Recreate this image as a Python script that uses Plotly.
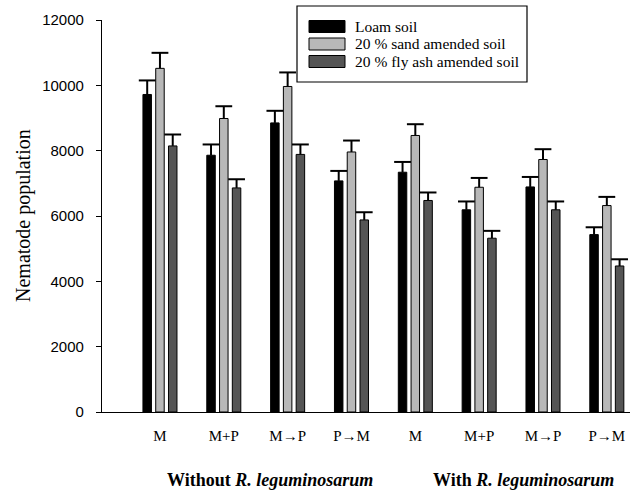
import plotly.graph_objects as go

# Treatment labels along the x axis (two blocks of four)
treatments = ["M", "M+P", "M\u2192P", "P\u2192M", "M", "M+P", "M\u2192P", "P\u2192M"]

series_names = ["Loam soil", "20 % sand amended soil", "20 % fly ash amended soil"]

# Mean nematode population per treatment
loam = [9720, 7860, 8850, 7075, 7340, 6190, 6890, 5430]
sand = [10520, 8985, 9965, 7960, 8465, 6880, 7730, 6320]
flyash = [8145, 6860, 7885, 5880, 6475, 5320, 6190, 4470]

# Upper error (standard error) per bar
loam_err = [430, 330, 370, 305, 315, 255, 305, 225]
sand_err = [475, 375, 430, 350, 345, 285, 315, 265]
flyash_err = [350, 265, 305, 235, 245, 225, 255, 205]

y_ticks = [0, 2000, 4000, 6000, 8000, 10000, 12000]

fills = ["#000000", "#b8b8b8", "#555555"]
means = [loam, sand, flyash]
errors = [loam_err, sand_err, flyash_err]

W, H = 630, 493
ML, MR, MT, MB = 102, 0, 20, 81
PW, PH = W - ML - MR, H - MT - MB

SLOT = 0.2      # spacing between bars of one group (axis units)
BAR_W = 0.133   # bar width (axis units)
CAP_PX = 12     # error-bar cap length (px)

SERIF = "Liberation Serif, Times New Roman, serif"
SANS = "Liberation Sans, Arial, sans-serif"

positions = list(range(len(treatments)))

fig = go.Figure()
for k, (name, vals, errs, col) in enumerate(zip(series_names, means, errors, fills)):
    shift = (k - 1) * SLOT
    fig.add_trace(go.Bar(
        x=positions, y=vals, name=name,
        width=BAR_W, offset=shift - BAR_W / 2,
        marker=dict(color=col, line=dict(color="#000000", width=1)),
        error_y=dict(type="data", array=errs, arrayminus=[0] * len(errs),
                     symmetric=False, width=0, thickness=2, color="#000000"),
        showlegend=False,
    ))
    # caps on top of the error bars
    fig.add_trace(go.Scatter(
        x=[p + shift for p in positions],
        y=[v + e for v, e in zip(vals, errs)],
        mode="markers",
        marker=dict(symbol="line-ew", size=CAP_PX,
                    line=dict(color="#000000", width=2)),
        showlegend=False, hoverinfo="skip",
    ))


def px_x(px):
    return (px - ML) / PW


def px_y(py):
    return (H - MB - py) / PH


# legend box drawn in the upper middle of the chart
LEG_L, LEG_R, LEG_T, LEG_B = 297, 527, 6, 82
SW_L, SW_R, SW_H = 309, 345, 12
ROW_Y = [26.5, 44, 61.5]
TXT_X = 353

shapes = [dict(type="rect", xref="paper", yref="paper",
               x0=px_x(LEG_L), x1=px_x(LEG_R), y0=px_y(LEG_B), y1=px_y(LEG_T),
               line=dict(color="#000000", width=1.2), fillcolor="#ffffff", layer="above")]
annotations = []
for name, col, ry in zip(series_names, fills, ROW_Y):
    shapes.append(dict(type="rect", xref="paper", yref="paper",
                       x0=px_x(SW_L), x1=px_x(SW_R),
                       y0=px_y(ry + SW_H / 2), y1=px_y(ry - SW_H / 2),
                       line=dict(color="#000000", width=1), fillcolor=col, layer="above"))
    annotations.append(dict(text=name, xref="paper", yref="paper",
                            x=px_x(TXT_X), y=px_y(ry), xanchor="left", yanchor="middle",
                            showarrow=False, font=dict(family=SERIF, size=15.5, color="#000000")))

# y-axis title
annotations.append(dict(text="Nematode population", xref="paper", yref="paper",
                        x=px_x(23), y=0.5, textangle=-90, xanchor="center", yanchor="middle",
                        showarrow=False, font=dict(family=SERIF, size=20, color="#000000")))

# block labels under the treatment labels
for label, cx in [("<b>Without <i>R. leguminosarum</i></b>", 270),
                  ("<b>With <i>R. leguminosarum</i></b>", 523)]:
    annotations.append(dict(text=label, xref="paper", yref="paper",
                            x=px_x(cx), y=px_y(480), xanchor="center", yanchor="middle",
                            showarrow=False, font=dict(family=SERIF, size=18, color="#000000")))

fig.update_layout(
    width=W, height=H,
    margin=dict(l=ML, r=MR, t=MT, b=MB, pad=0),
    plot_bgcolor="#ffffff", paper_bgcolor="#ffffff",
    barmode="group",
    shapes=shapes, annotations=annotations,
    xaxis=dict(range=[-0.908, 7.363], tickvals=positions, ticktext=treatments,
               ticks="", showline=True, linecolor="#000000", linewidth=1.2,
               showgrid=False, zeroline=False, ticklabelstandoff=10,
               tickfont=dict(family=SERIF, size=15, color="#000000"), fixedrange=True),
    yaxis=dict(range=[0, 12000], tickvals=y_ticks, ticktext=[str(v) for v in y_ticks],
               ticks="outside", ticklen=5,
               tickwidth=1, tickcolor="#000000", showline=True, linecolor="#000000",
               linewidth=1.2, showgrid=False, zeroline=False, ticklabelstandoff=9,
               tickfont=dict(family=SANS, size=15, color="#000000"), fixedrange=True),
)

fig.write_html("out.html")
